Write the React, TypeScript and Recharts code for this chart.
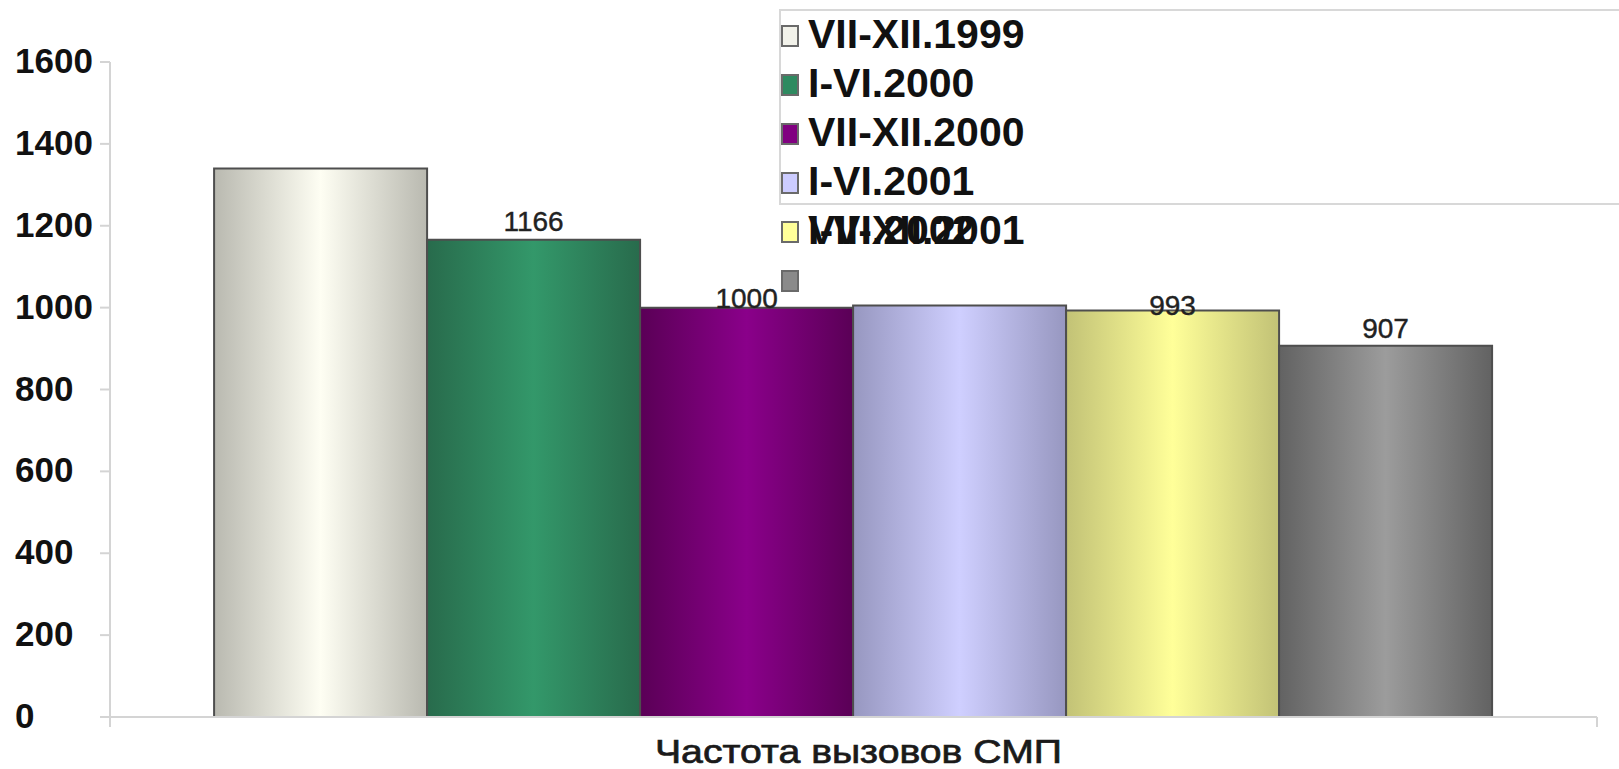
import React from 'react';
import { BarChart, Bar, XAxis, YAxis, LabelList } from 'recharts';

// Call frequency, half-year periods
const CATEGORY = 'Частота вызовов СМП';
const SERIES_NAMES = [
    'VII-XII.1999',
    'I-VI.2000',
    'VII-XII.2000',
    'I-VI.2001',
    'VII-XII.2001',
    'I-VI.2002',
];
const SERIES_VALUES = [1340, 1166, 1000, 1005, 993, 907];
const SHOW_LABEL = [false, true, true, false, true, true];
const Y_TICKS = [0, 200, 400, 600, 800, 1000, 1200, 1400, 1600];

// edge / highlight colours for the cylinder-like shading
const BAR_COLORS = [
    { edge: '#b9b9b0', mid: '#fefef3', swatch: '#f2f2ea' },
    { edge: '#286b4c', mid: '#33986a', swatch: '#2e8a60' },
    { edge: '#5a0056', mid: '#8a008a', swatch: '#800080' },
    { edge: '#9797c0', mid: '#cfcfff', swatch: '#ccccff' },
    { edge: '#c2c276', mid: '#ffff99', swatch: '#ffff99' },
    { edge: '#626262', mid: '#9c9c9c', swatch: '#8a8a8a' },
];
const LABEL_DY = [0, -9, 0, 0, 5, -8];

const W = 1619;
const H = 769;
const MARGIN = { top: 62, right: 22, left: 0, bottom: 0 };
const Y_AXIS_W = 110;
const X_AXIS_H = 52;
const PLOT_W = W - MARGIN.left - MARGIN.right - Y_AXIS_W;

const FONT = '"Liberation Sans", Arial, sans-serif';
const AXIS_COLOR = '#d4d4d4';

const row: Record<string, string | number> = { name: CATEGORY };
SERIES_VALUES.forEach((v, i) => {
    row[`s${i}`] = v;
});
const data = [row];

const YTick = (props: any) => {
    const { x, y, payload } = props;
    return (
        <text
            x={x - 85}
            y={y + 11}
            textAnchor="start"
            fontFamily={FONT}
            fontWeight="bold"
            fontSize={35}
            fill="#111">
            {payload.value}
        </text>
    );
};

const XTick = (props: any) => {
    const { x, y, payload } = props;
    const half = PLOT_W / 2;
    return (
        <g>
            <line x1={x - half} y1={y} x2={x - half} y2={y + 10} stroke={AXIS_COLOR} strokeWidth={2} />
            <line x1={x + half} y1={y} x2={x + half} y2={y + 10} stroke={AXIS_COLOR} strokeWidth={2} />
            <text
                x={x + 5}
                y={y + 46}
                textAnchor="middle"
                fontFamily={FONT}
                fontSize={33}
                textLength={407}
                lengthAdjust="spacingAndGlyphs"
                fill="#1a1a1a"
                stroke="#1a1a1a"
                strokeWidth={0.7}>
                {payload.value}
            </text>
        </g>
    );
};

const makeLabel = (dy: number) => (props: any) => {
    const { x, y, width, value } = props;
    return (
        <text
            x={x + width / 2}
            y={y + dy}
            textAnchor="middle"
            fontFamily={FONT}
            fontSize={28}
            fill="#222"
            stroke="#222"
            strokeWidth={0.4}>
            {value}
        </text>
    );
};

const LegendBox = () => {
    const rowH = 49;
    return (
        <svg
            width={W}
            height={H}
            style={{ position: 'absolute', left: 0, top: 0, pointerEvents: 'none' }}>
            <rect x={780} y={10} width={900} height={194} fill="none" stroke="#d8d8d8" strokeWidth={2} />
            {SERIES_NAMES.map((name, i) => {
                const base = 48 + rowH * i;
                // the last entry's text lands on the row above it
                const textBase = 48 + rowH * Math.min(i, 4);
                return (
                    <g key={name}>
                        <rect
                            x={782}
                            y={base - 22}
                            width={16}
                            height={20}
                            fill={BAR_COLORS[i].swatch}
                            stroke="#6a6a6a"
                            strokeWidth={2}
                        />
                        <text
                            x={808}
                            y={textBase}
                            fontFamily={FONT}
                            fontWeight="bold"
                            fontSize={41}
                            fill="#111">
                            {name}
                        </text>
                    </g>
                );
            })}
        </svg>
    );
};

export default function App() {
    return (
        <div
            style={{
                position: 'fixed',
                left: 0,
                top: 0,
                width: W,
                height: H,
                overflow: 'hidden',
                background: '#fff',
            }}>
            <BarChart
                width={W}
                height={H}
                data={data}
                margin={MARGIN}
                barCategoryGap="7%"
                barGap={0}>
                <defs>
                    {BAR_COLORS.map((c, i) => (
                        <linearGradient key={i} id={`bar-grad-${i}`} x1="0" y1="0" x2="1" y2="0">
                            <stop offset="0%" stopColor={c.edge} />
                            <stop offset="50%" stopColor={c.mid} />
                            <stop offset="100%" stopColor={c.edge} />
                        </linearGradient>
                    ))}
                </defs>
                <XAxis
                    dataKey="name"
                    height={X_AXIS_H}
                    tickLine={false}
                    tickSize={0}
                    tickMargin={0}
                    axisLine={{ stroke: AXIS_COLOR, strokeWidth: 2 }}
                    tick={<XTick />}
                    interval={0}
                />
                <YAxis
                    width={Y_AXIS_W}
                    domain={[0, 1600]}
                    ticks={Y_TICKS}
                    tickSize={10}
                    tickMargin={0}
                    tickLine={{ stroke: AXIS_COLOR, strokeWidth: 2 }}
                    axisLine={{ stroke: AXIS_COLOR, strokeWidth: 2 }}
                    tick={<YTick />}
                    interval={0}
                />
                {SERIES_NAMES.map((name, i) => (
                    <Bar
                        key={name}
                        dataKey={`s${i}`}
                        name={name}
                        fill={`url(#bar-grad-${i})`}
                        stroke="#4e4e4e"
                        strokeWidth={2}
                        isAnimationActive={false}>
                        {SHOW_LABEL[i] && (
                            <LabelList dataKey={`s${i}`} content={makeLabel(LABEL_DY[i])} />
                        )}
                    </Bar>
                ))}
            </BarChart>
            <LegendBox />
        </div>
    );
}
